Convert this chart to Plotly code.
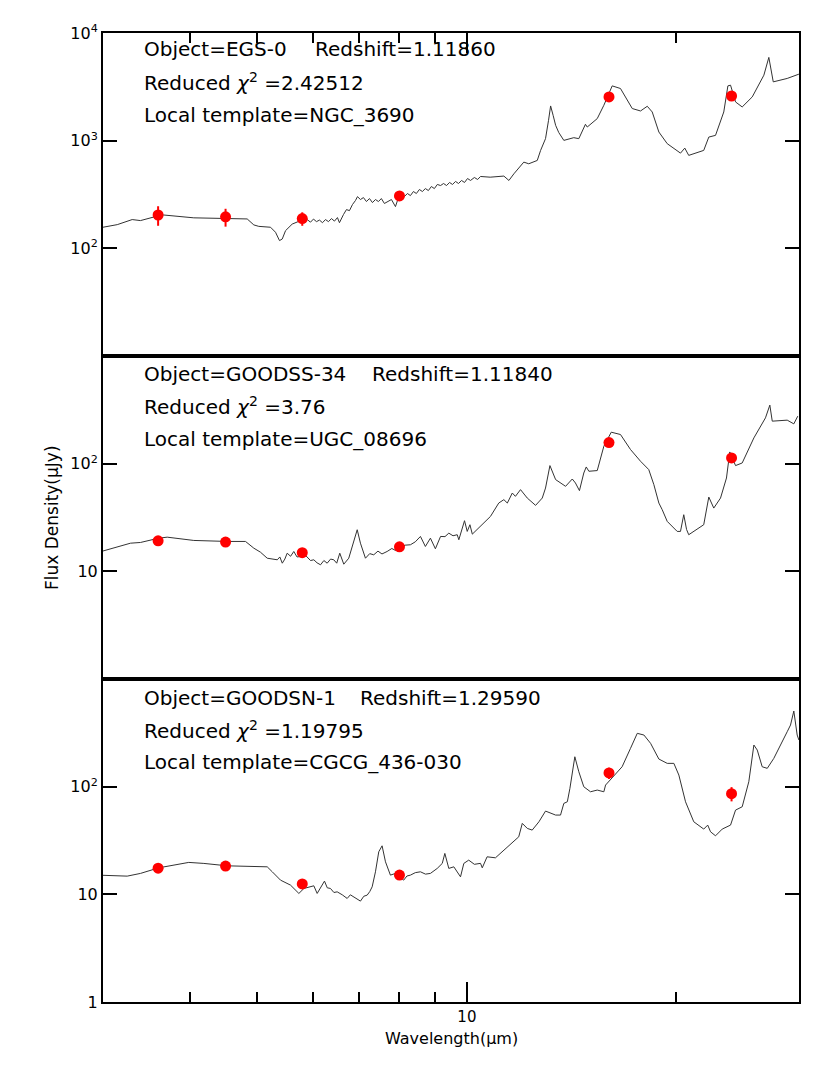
import math
import plotly.graph_objects as go

# ---------------- data ----------------
PHOT_WAVE = [3.6, 4.5, 5.8, 8.0, 16.0, 24.0]

P1_PHOT = [204, 196, 189, 307, 2550, 2600]
P1_ERR = [42, 37, 27, 30, 0, 0]
P2_PHOT = [19.2, 18.7, 14.9, 16.9, 157, 113]
P2_ERR = [0.8, 0.8, 0.6, 0.7, 6, 5]
P3_PHOT = [17.5, 18.3, 12.5, 15.1, 134, 86]
P3_ERR = [0.7, 0.7, 0.5, 0.6, 16, 13]

P1_WAVE = [3.00, 3.145, 3.304, 3.396, 3.608, 3.668, 4.051, 4.524, 4.834, 4.941, 5.023, 5.222,
           5.309, 5.379, 5.428, 5.488, 5.610, 5.768, 5.832,
           5.895, 5.960, 6.019, 6.079, 6.140, 6.201, 6.263, 6.325, 6.388, 6.452, 6.516, 6.559,
           6.647, 6.713, 6.780, 6.848, 6.916, 6.962, 7.031, 7.101, 7.172, 7.244, 7.316, 7.389,
           7.462, 7.535, 7.611, 7.713, 7.790, 7.894, 7.973, 8.052, 8.132, 8.213, 8.295, 8.378,
           8.460, 8.545, 8.630, 8.716, 8.803, 8.890, 8.979, 9.068, 9.165, 9.256, 9.348, 9.441,
           9.535, 9.630, 9.726, 9.823, 9.921, 10.02, 10.12, 10.25, 10.36, 10.46,
           10.80, 11.30, 11.49, 11.68, 12.07, 12.27, 12.62, 12.76, 12.97, 13.10, 13.19, 13.30,
           13.41, 13.55, 13.78, 14.24, 14.48, 14.80, 14.89, 15.39, 15.73, 16.17, 16.62, 17.28,
           17.76, 18.16, 18.46, 18.87, 19.40, 20.27, 20.56, 20.83, 21.89, 22.26, 22.76, 23.39,
           23.71, 23.92, 24.32, 24.86, 25.70, 26.71, 27.15, 27.55, 28.85, 29.99]
P1_FLUX = [157, 166, 185, 181, 201, 204, 192, 187.5, 187.5, 165, 160, 157,
           141, 118, 122, 146, 168, 181, 174,
           185, 175, 187, 177, 183, 173, 185, 177, 189, 179, 193, 173,
           206, 229, 224, 255, 278, 302, 284, 296, 272, 290, 266, 284,
           272, 290, 261, 272, 284, 244, 296, 309, 303, 323, 309, 337,
           323, 352, 337, 359, 344, 375, 359, 392, 383, 400, 383, 409,
           392, 418, 400, 427, 409, 445, 427, 455, 436, 465,
           458, 469, 427, 492, 632, 610, 655, 812, 1044, 1546, 2101, 1720,
           1389, 1190, 1006, 1066, 1044, 1419, 1339, 1603, 2133, 3227, 3051, 1988,
           1887, 2087, 1847, 1203, 938, 766, 853, 730, 812, 1080, 1120, 1847,
           3227, 3276, 2289, 2056, 2548, 4059, 5935, 3517, 3783, 4148]

P2_WAVE = [3.00, 3.110, 3.286, 3.396, 3.608, 3.710, 4.051, 4.524, 4.807, 4.941, 5.051, 5.165,
           5.340, 5.385, 5.429, 5.475, 5.518, 5.580, 5.640, 5.700, 5.768, 5.830, 5.895, 5.960,
           6.026, 6.090, 6.161, 6.230, 6.298, 6.370, 6.437, 6.500, 6.566, 6.654, 6.764, 6.879,
           6.956, 7.031, 7.148, 7.250, 7.347, 7.450, 7.550, 7.680, 7.800, 7.900, 8.025, 8.150,
           8.295, 8.430, 8.575, 8.716, 8.862, 9.009, 9.165, 9.300, 9.418, 9.550, 9.684, 9.736,
           9.921, 10.01, 10.10, 10.18, 10.81, 11.11, 11.30, 11.43, 11.62, 11.74, 11.94, 12.21,
           12.55, 12.83, 12.97, 13.16, 13.41, 13.86, 14.17, 14.32, 14.51, 14.72, 14.84, 14.97,
           15.39, 15.73, 16.12, 16.62, 17.18, 17.76, 18.25, 18.56, 18.87, 19.08, 19.40, 20.05,
           20.27, 20.49, 20.68, 20.83, 21.89, 22.26, 22.63, 23.14, 23.60, 23.86, 24.32, 24.86,
           25.84, 26.85, 27.24, 27.46, 28.85, 29.49, 29.88]
P2_FLUX = [15.45, 16.41, 18.26, 18.54, 20.33, 20.77, 19.36, 18.95, 18.95, 16.41, 15.06, 13.24,
           12.80, 13.6, 11.90, 13.0, 14.74, 13.8, 15.29, 13.6, 13.73, 14.6, 13.44, 12.6,
           12.80, 12.0, 11.50, 12.6, 11.90, 13.0, 12.80, 11.9, 14.74, 11.65, 13.24, 18.95,
           24.34, 18.26, 13.24, 14.6, 14.24, 15.4, 14.5, 15.29, 16.3, 15.6, 16.41, 17.5,
           17.65, 18.8, 21.09, 17.02, 20.33, 16.20, 21.09, 21.0, 22.63, 21.4, 21.88, 19.65,
           29.53, 23.48, 27.10, 22.15, 32.37, 43.07, 46.32, 43.07, 53.37, 49.71, 57.39, 47.93,
           41.0, 47.93, 59.38, 96.0, 71.12, 61.6, 72.03, 66.12, 56.17, 81.91, 93.2, 84.97,
           86.27, 145.2, 196.1, 186.6, 135.3, 105.3, 88.13, 63.89, 43.07, 37.37, 29.09, 23.48,
           23.48, 33.57, 24.5, 21.88, 27.10, 48.96, 38.68, 47.93, 73.6, 128.5, 96.0, 101.5,
           173.5, 266.4, 349.8, 248.2, 253.6, 234.2, 276.3]

P3_WAVE = [3.00, 3.250, 3.396, 3.608, 3.984, 4.188, 4.524, 4.728, 5.165, 5.252, 5.397, 5.579,
           5.735, 5.832, 6.026, 6.093, 6.170, 6.242, 6.300, 6.367, 6.440, 6.510, 6.620, 6.729,
           6.800, 6.879, 6.950, 7.031, 7.110, 7.189, 7.250, 7.309, 7.389, 7.470, 7.553, 7.638,
           7.764, 7.894, 8.000, 8.113, 8.200, 8.295, 8.430, 8.575, 8.720, 8.862, 9.064, 9.216,
           9.295, 9.418, 9.576, 9.790, 9.898, 10.06, 10.25, 10.46, 10.52, 10.69, 10.99, 11.87,
           12.01, 12.21, 12.41, 12.69, 12.97, 13.41, 13.63, 13.78, 13.94, 14.06, 14.29, 14.48,
           14.72, 15.05, 15.39, 15.73, 15.82, 16.44, 16.71, 17.18, 17.57, 17.96, 18.36, 18.87,
           19.40, 19.83, 20.16, 20.61, 21.18, 21.89, 22.18, 22.39, 22.76, 23.27, 23.92, 24.32,
           24.86, 25.41, 25.84, 26.13, 26.56, 27.01, 27.60, 28.85, 29.17, 29.49, 29.82, 29.99]
P3_FLUX = [15.02, 14.76, 15.64, 17.63, 19.79, 19.37, 18.40, 18.28, 18.01, 16.19, 13.55, 12.18,
           10.19, 11.34, 12.0, 10.19, 11.6, 13.27, 11.5, 11.34, 10.4, 10.55, 9.9, 9.16,
           9.9, 9.48, 9.2, 8.65, 9.6, 9.83, 10.6, 11.74, 16.19, 24.83, 28.23, 20.05,
           15.08, 15.64, 14.5, 13.55, 14.8, 15.08, 15.9, 16.19, 15.4, 15.64, 17.41, 19.37,
           23.99, 17.41, 18.01, 14.54, 19.37, 20.78, 19.0, 19.4, 17.63, 22.31, 21.84, 34.22,
           45.6, 40.97, 39.5, 47.19, 59.33, 54.47, 54.47, 69.95, 72.38, 96.43, 189.6, 137.6,
           99.8, 89.66, 92.99, 89.66, 103.5, 137.6, 153.1, 227.0, 312.9, 301.7, 252.6, 180.5,
           164.6, 164.6, 128.2, 72.38, 47.19, 40.36, 43.97, 38.09, 34.97, 40.36, 43.97, 60.6,
           65.06, 111.1, 243.6, 218.8, 153.1, 148.0, 183.2, 323.7, 373.6, 504.2, 301.7, 271.1]

OBJECTS = ["Object=EGS-0", "Object=GOODSS-34", "Object=GOODSN-1"]
REDSHIFTS = ["Redshift=1.11860", "Redshift=1.11840", "Redshift=1.29590"]
CHI2 = ["2.42512", "3.76", "1.19795"]
TEMPLATES = ["NGC_3690", "UGC_08696", "CGCG_436-030"]

Y_TICKVALS = [[100, 1000, 10000], [10, 100], [1, 10, 100]]
Y_TICKTEXT = [["10<sup>2</sup>", "10<sup>3</sup>", "10<sup>4</sup>"],
              ["10", "10<sup>2</sup>"],
              ["1", "10", "10<sup>2</sup>"]]
Y_RANGES = [[1, 4], [0, 3], [0, 3]]
X_MAJOR = [10]
X_MINOR = [4, 5, 6, 7, 8, 9, 20]

# ---------------- figure ----------------
FONT = "DejaVu Sans"
fig = go.Figure()

spectra = [(P1_WAVE, P1_FLUX), (P2_WAVE, P2_FLUX), (P3_WAVE, P3_FLUX)]
phot = [(P1_PHOT, P1_ERR), (P2_PHOT, P2_ERR), (P3_PHOT, P3_ERR)]

for i in range(3):
    xa = "x" if i == 0 else f"x{i+1}"
    ya = "y" if i == 0 else f"y{i+1}"
    w, f = spectra[i]
    fig.add_trace(go.Scatter(x=w, y=f, mode="lines", xaxis=xa, yaxis=ya,
                             line=dict(color="#333333", width=1), showlegend=False,
                             hoverinfo="skip"))
    p, e = phot[i]
    fig.add_trace(go.Scatter(x=PHOT_WAVE, y=p, mode="markers", xaxis=xa, yaxis=ya,
                             marker=dict(color="red", size=11, line=dict(width=0)),
                             error_y=dict(type="data", array=e, color="red",
                                          thickness=2, width=0),
                             showlegend=False))

xrange = [math.log10(3), math.log10(30)]
domains = [[2/3, 1.0], [1/3, 2/3], [0.0, 1/3]]

common_x = dict(type="log", range=xrange, showline=True, linewidth=2, linecolor="black",
                mirror=True, showgrid=False, zeroline=False)

layout = dict(
    width=830, height=1068,
    margin=dict(l=95, r=39, t=25, b=74),
    paper_bgcolor="white", plot_bgcolor="white",
    showlegend=False,
    font=dict(family=FONT, color="black"),
)

# panel 1 x (ticks on top)
layout["xaxis"] = dict(common_x, anchor="y", side="top", ticks="inside", ticklen=20,
                       tickwidth=1.5, tickcolor="black", tickvals=X_MAJOR,
                       showticklabels=False,
                       minor=dict(ticks="inside", ticklen=10, tickwidth=1.5,
                                  tickcolor="black", tickvals=X_MINOR, showgrid=False))
layout["xaxis2"] = dict(common_x, anchor="y2", ticks="", showticklabels=False)
layout["xaxis3"] = dict(common_x, anchor="y3", side="bottom", ticks="inside", ticklen=20,
                        tickwidth=1.5, tickcolor="black", tickvals=X_MAJOR,
                        ticktext=["10"], tickfont=dict(size=15, family=FONT),
                        minor=dict(ticks="inside", ticklen=10, tickwidth=1.5,
                                   tickcolor="black", tickvals=X_MINOR, showgrid=False))

for i in range(3):
    key = "yaxis" if i == 0 else f"yaxis{i+1}"
    xa = "x" if i == 0 else f"x{i+1}"
    layout[key] = dict(type="log", domain=domains[i], range=Y_RANGES[i], anchor=xa,
                       showline=True, linewidth=2, linecolor="black", mirror="ticks",
                       ticks="inside", ticklen=14, tickwidth=2, tickcolor="black",
                       tickvals=Y_TICKVALS[i], ticktext=Y_TICKTEXT[i],
                       tickfont=dict(size=16, family=FONT),
                       showgrid=False, zeroline=False)

fig.update_layout(**layout)

# ---------------- text ----------------
line_y = [[0.9835, 0.9494, 0.9154], [0.6481, 0.6151, 0.5810], [0.3137, 0.2807, 0.2477]]
red_x = [0.3017, 0.3836, 0.3664]
txt_x = 0.056
TS = 20
for i in range(3):
    fig.add_annotation(x=txt_x, y=line_y[i][0], xref="paper", yref="paper",
                       text=OBJECTS[i], showarrow=False, xanchor="left", yanchor="middle",
                       font=dict(size=TS, family=FONT))
    fig.add_annotation(x=red_x[i], y=line_y[i][0], xref="paper", yref="paper",
                       text=REDSHIFTS[i], showarrow=False, xanchor="left", yanchor="middle",
                       font=dict(size=TS, family=FONT))
    fig.add_annotation(x=txt_x, y=line_y[i][1], xref="paper", yref="paper",
                       text="Reduced <i>χ</i><sup>2</sup> =" + CHI2[i], showarrow=False,
                       xanchor="left", yanchor="middle", font=dict(size=TS, family=FONT))
    fig.add_annotation(x=txt_x, y=line_y[i][2], xref="paper", yref="paper",
                       text="Local template=" + TEMPLATES[i], showarrow=False,
                       xanchor="left", yanchor="middle", font=dict(size=TS, family=FONT))

# axis titles
fig.add_annotation(x=0.5, y=-0.038, xref="paper", yref="paper", text="Wavelength(μm)",
                   showarrow=False, xanchor="center", yanchor="middle",
                   font=dict(size=16, family=FONT))
fig.add_annotation(x=-0.074, y=0.5, xref="paper", yref="paper", text="Flux Density(μJy)",
                   showarrow=False, textangle=-90, xanchor="center", yanchor="middle",
                   font=dict(size=17, family=FONT))

fig.write_html("out.html")
